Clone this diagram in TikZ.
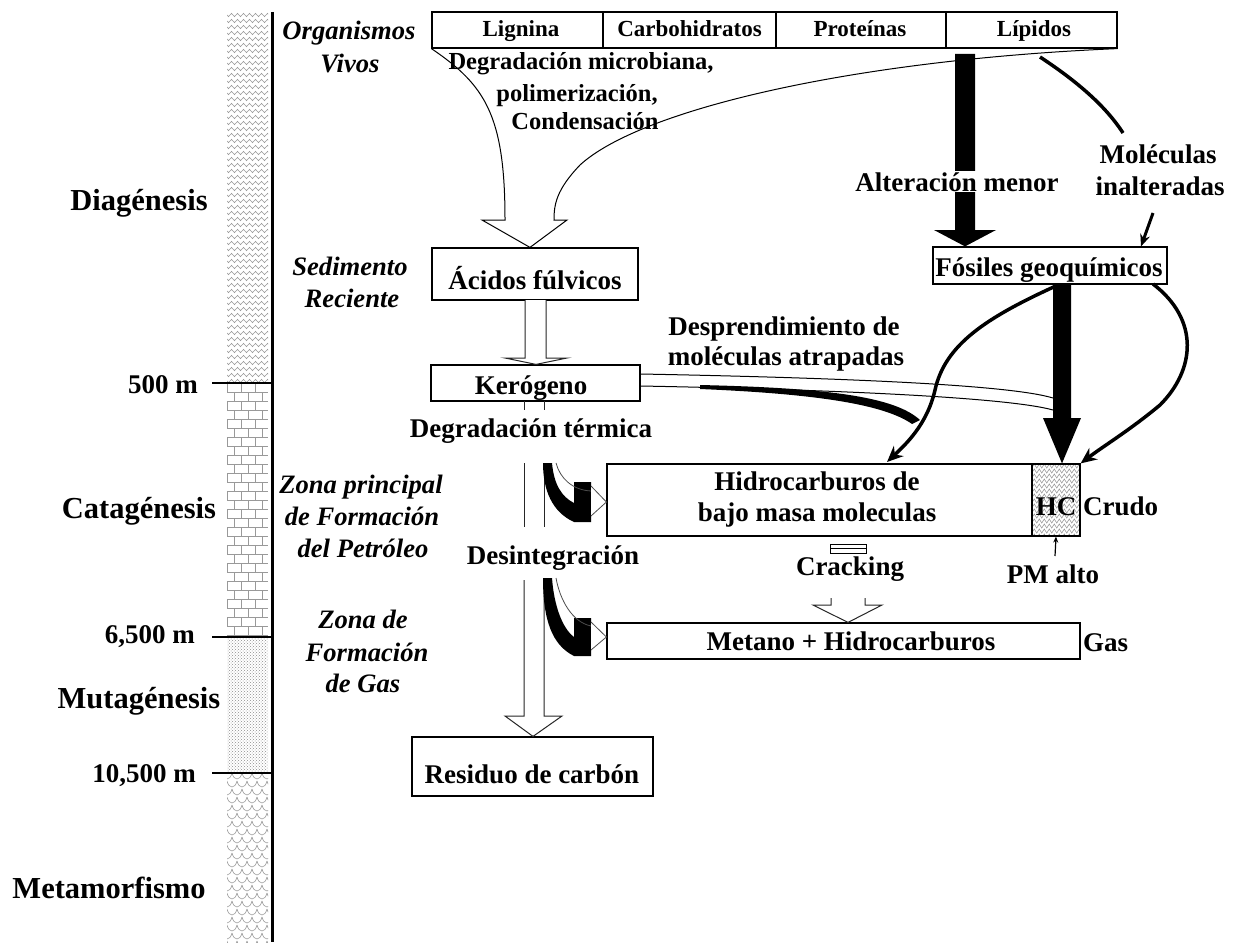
\documentclass[tikz,border=0pt]{standalone}
\usepackage{fontspec}
\setmainfont{Liberation Serif}
\usetikzlibrary{arrows.meta,decorations.pathmorphing,patterns,calc}
\begin{document}
\begin{tikzpicture}[x=1pt,y=-1pt,
 t/.style={font=\bfseries\fontsize{27}{31}\selectfont, inner sep=0pt, anchor=base},
 tc/.style={t, font=\bfseries\fontsize{23}{27}\selectfont},
 tm/.style={t, font=\bfseries\fontsize{24.5}{30}\selectfont},
 zone/.style={t, font=\bfseries\itshape\fontsize{26.6}{31.5}\selectfont},
 era/.style={t, font=\bfseries\fontsize{30.5}{34}\selectfont},
 depth/.style={t, anchor=base east},
 box/.style={draw, line width=1.2pt, inner sep=0pt},
 hollow/.style={draw=black!85, line width=1pt, fill=white, line join=miter},
 thickcurve/.style={line width=3.5pt, -{Stealth[length=16pt,width=14pt]}},
 pat/.style={draw=black!40, line width=0.6pt}]
\useasboundingbox (0,0) rectangle (1238,942);

% ---------- left depth column ----------
\begin{scope}
\clip (227,13) rectangle (268,383);
\foreach \yy in {15,21,...,381} \draw[pat, decorate, decoration={zigzag,segment length=6pt,amplitude=1.6pt}] (224,\yy) -- (272,\yy);
\end{scope}
\begin{scope}
\clip (227,383) rectangle (268,637);
\foreach \i in {0,...,28} {
  \pgfmathsetmacro\yy{383+9*\i}
  \pgfmathsetmacro\off{mod(\i,2)*7}
  \draw[pat] (227,\yy) -- (268,\yy);
  \foreach \k in {0,...,3} {\draw[pat] ({227+\off+14*\k},\yy) -- ++(0,9);}
}
\end{scope}
\fill[pattern=crosshatch dots, pattern color=black!45] (227,637) rectangle (268,773);
\begin{scope}
\clip (227,773) rectangle (268,942);
\foreach \i in {0,...,22} {
  \pgfmathsetmacro\yy{773+8*\i}
  \pgfmathsetmacro\off{mod(\i,2)*5}
  \foreach \k in {0,...,4} {
    \pgfmathsetmacro\xx{222+\off+10*\k}
    \draw[pat] (\xx,\yy) .. controls ({\xx+2},{\yy+8}) and ({\xx+8},{\yy+8}) .. ({\xx+10},\yy);
  }
}
\end{scope}
\draw[line width=3pt] (272,12) -- (272,942);
\coordinate (l1) at (212,383);
\coordinate (l2) at (212,637);
\coordinate (l3) at (212,773);
\draw[line width=1.2pt] (l1) -- (272,383);
\draw[line width=1.2pt] (l2) -- (272,637);
\draw[line width=1.2pt] (l3) -- (272,773);

\node[era] (dia) at (139,210) {Diagénesis};
\node[era] (cata) at (139,518) {Catagénesis};
\node[era] (muta) at (139,708) {Mutagénesis};
\node[era] (meta) at (109,898) {Metamorfismo};
\node[depth] (d1) at (198,393) {500 m};
\node[depth] (d2) at (195,643) {6,500 m};
\node[depth] (d3) at (196,782) {10,500 m};

\node[zone] (org1) at (349,40) {Organismos};
\node[zone] (org2) at (350,72) {Vivos};
\node[zone] (sed1) at (350,275) {Sedimento};
\node[zone] (sed2) at (352,307) {Reciente};
\node[zone] (zp1) at (361,493) {Zona principal};
\node[zone] (zp2) at (362,525) {de Formación};
\node[zone] (zp3) at (363,557) {del Petróleo};
\node[zone] (zg1) at (363,628) {Zona de};
\node[zone] (zg2) at (367,661) {Formación};
\node[zone] (zg3) at (363,692) {de Gas};

% ---------- top box ----------
\node[box, minimum width=171pt, minimum height=36pt] (lig) at (517.5,30) {};
\node[box, minimum width=173pt, minimum height=36pt] (carb) at (689.5,30) {};
\node[box, minimum width=170pt, minimum height=36pt] (prot) at (861,30) {};
\node[box, minimum width=171pt, minimum height=36pt] (lip) at (1031.5,30) {};
\node[tc] (ligt) at (521,37) {Lignina};
\node[tc] (carbt) at (689.5,37) {Carbohidratos};
\node[tc] (prott) at (860,37) {Proteínas};
\node[tc] (lipt) at (1034,37) {Lípidos};

\node[tm] (dm1) at (581,69) {Degradación microbiana,};
\node[tm] (dm2) at (577,101) {polimerización,};
\node[tm] (dm3) at (585,129) {Condensación};

% ---------- boxes ----------
\node[box, minimum width=206pt, minimum height=52pt] (acidos) at (535,274) {};
\node[t] (acidost) at (535,289) {Ácidos fúlvicos};
\node[box, minimum width=209pt, minimum height=36pt] (kero) at (535.5,383) {};
\node[t] (kerot) at (531,394) {Kerógeno};
\node[box, minimum width=234pt, minimum height=37pt] (fos) at (1050,265.5) {};
\node[t] (fost) at (1049,276) {Fósiles geoquímicos};
\node[box, minimum width=425pt, minimum height=72pt] (hidro) at (819.5,500) {};
\node[t] (hid1) at (817,490) {Hidrocarburos de};
\node[t] (hid2) at (817,521) {bajo masa moleculas};
\begin{scope}
\clip (1032,464) rectangle (1080,536);
\foreach \yy in {461,466,...,541} \draw[pat, decorate, decoration={zigzag,segment length=5pt,amplitude=2pt}] (1028,\yy) -- (1086,\yy);
\end{scope}
\node[box, minimum width=48pt, minimum height=72pt] (hc) at (1056,500) {};
\node[t] (hct) at (1056,515) {HC};
\node[t, anchor=base west] (crudo) at (1083,515) {Crudo};
\node[box, minimum width=473pt, minimum height=36pt] (metano) at (843.5,641) {};
\node[t] (metanot) at (851,650) {Metano + Hidrocarburos};
\node[t, anchor=base west] (gas) at (1083,651) {Gas};
\node[box, minimum width=241pt, minimum height=59pt] (residuo) at (532.5,766.5) {};
\node[t] (residuot) at (532,783) {Residuo de carbón};

% ---------- hollow arrow from the top box to Acidos ----------
\draw[line width=1pt, line join=miter] (lig.south west) .. controls (485,85) and (505,115) .. (505,220)
  -- (482,220) -- (acidos.north -| 530,0) -- (567,220) -- (554,220)
  .. controls (554,205) and (556,190) .. (580,165) .. controls (640,110) and (850,60) .. (lip.south east);

% Acidos -> Kerogeno
\draw[hollow] (525,300) -- (525,358) -- (505,358) -- (kero.north -| 536,0) -- (567,358) -- (546,358) -- (546,300);

% ---------- vertical hollow shaft Kerogeno -> Residuo ----------
\draw[line width=1pt, draw=black!85] (524,401) -- (524,410) (544,401) -- (544,410);
\draw[line width=1pt, draw=black!85] (524,463) -- (524,527) (544,463) -- (544,527);
\draw[hollow] (524,580) -- (524,716) -- (505,716) -- (residuo.north -| 533,0) -- (562,716) -- (544,716) -- (544,580);
\node[t] (degt) at (531,437) {Degradación térmica};
\node[t] (desi) at (553,564) {Desintegración};

% curved side arrow 1 (to Hidrocarburos)
\fill (543,463) -- (552,463) .. controls (554,485) and (562,497) .. (574,503) -- (574,482) -- (591,482)
  -- (591,522) -- (574,522) .. controls (552,512) and (543,490) .. (543,463) -- cycle;
\draw[line width=0.8pt, draw=black!70] (556,463) .. controls (560,478) and (572,490) .. (591,491);
\draw[line width=0.8pt, draw=black!70, fill=white] (591,486) -- (hidro.west |- 0,502) -- (591,516);

% curved side arrow 2 (to Metano)
\fill (543,578) -- (552,578) .. controls (554,605) and (562,628) .. (574,637) -- (574,618) -- (591,618)
  -- (591,656) -- (574,656) .. controls (552,645) and (543,620) .. (543,578) -- cycle;
\draw[line width=0.8pt, draw=black!70] (556,578) .. controls (560,600) and (572,622) .. (591,626);
\draw[line width=0.8pt, draw=black!70, fill=white] (591,622) -- (metano.west |- 0,637) -- (591,650);

% ---------- Lipidos branch ----------
\fill (955,54) -- (975,54) -- (975,230) -- (996,230) -- (fos.north -| 965,0) -- (934,230) -- (955,230) -- cycle;
\node[t, fill=white, inner sep=1pt] (alt) at (957,191) {Alteración menor};
\draw[line width=3.5pt] (1040,57) .. controls (1075,80) and (1105,105) .. (1123,133);
\node[t] (mol1) at (1158,163) {Moléculas};
\node[t] (mol2) at (1160,195) {inalteradas};
\draw[line width=3pt, -{Stealth[length=12pt,width=10pt]}] (1153,213) -- (fos.north -| 1141,0);

% ---------- Fosiles -> HC ----------
\fill (1053,284) -- (1071,284) -- (1071,418) -- (1081,418) -- (hc.north -| 1062,0) -- (1043,418) -- (1053,418) -- cycle;
\draw[thickcurve] (1058,285) .. controls (985,318) and (945,345) .. (935,390) .. controls (927,425) and (905,445) .. (887,462);
\draw[thickcurve] (1153,284) .. controls (1200,320) and (1195,370) .. (1160,405) .. controls (1130,430) and (1105,445) .. (hc.north east);

% ---------- Kerogeno -> trapped molecules ----------
\draw[line width=1pt] (kero.east |- 0,374) .. controls (850,378) and (1010,385) .. (1053,398);
\draw[line width=1pt] (kero.east |- 0,386) .. controls (850,390) and (1010,398) .. (1053,410);
\fill (700,385) .. controls (830,388) and (895,397) .. (920,420) -- (912,424) .. controls (885,405) and (820,394) .. (700,389) -- cycle;
\node[t] (desp1) at (784,335) {Desprendimiento de};
\node[t] (desp2) at (786,365) {moléculas atrapadas};

% ---------- cracking ----------
\draw[line width=1pt] (830,544) rectangle (866,553);
\draw[line width=1pt] (830,548.5) -- (866,548.5);
\node[t] (crack) at (850,575) {Cracking};
\draw[hollow] (831,598) -- (831,605) -- (813,605) -- (metano.north -| 848,0) -- (882,605) -- (865,605) -- (865,598);

\node[t] (pm) at (1053,583) {PM alto};
\draw[line width=1.2pt, -{Stealth[length=6pt,width=5pt]}] (1055,556) -- (hc.south);
\end{tikzpicture}
\end{document}
